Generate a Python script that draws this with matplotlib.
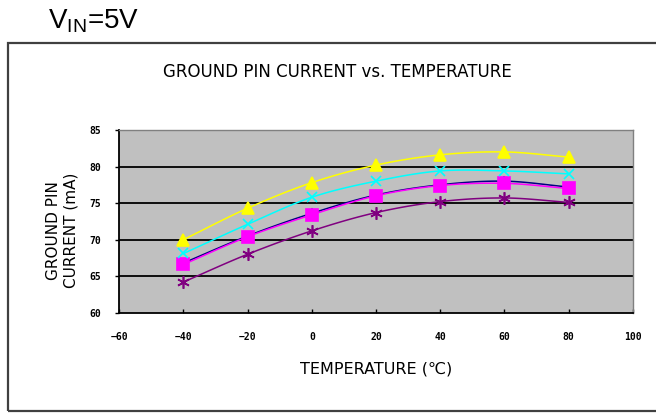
import numpy as np
import matplotlib
matplotlib.use("Agg")
import matplotlib.pyplot as plt
from matplotlib.patches import Rectangle

# datos
temp = [-40, -20, 0, 20, 40, 60, 80]
serie_amarilla = [70.0, 74.3, 77.8, 80.2, 81.6, 82.0, 81.3]
serie_cian = [68.1, 72.1, 75.8, 78.0, 79.4, 79.4, 79.0]
serie_azul = [66.8, 70.5, 73.6, 76.1, 77.5, 78.0, 77.2]
serie_magenta = [66.6, 70.4, 73.4, 76.0, 77.4, 77.7, 77.0]
serie_purpura = [64.2, 68.0, 71.2, 73.7, 75.2, 75.7, 75.1]

x_ticks = [-60, -40, -20, 0, 20, 40, 60, 80, 100]
y_ticks = [60, 65, 70, 75, 80, 85]


def suavizar(x, y, n=20):
    # curva tipo catmull-rom solo para dibujar la linea (como el suavizado de Excel)
    x = np.asarray(x, float)
    y = np.asarray(y, float)
    px = np.concatenate([[2 * x[0] - x[1]], x, [2 * x[-1] - x[-2]]])
    py = np.concatenate([[2 * y[0] - y[1]], y, [2 * y[-1] - y[-2]]])
    xs, ys = [], []
    t = np.linspace(0, 1, n)
    for i in range(1, len(px) - 2):
        for p, out in ((px, xs), (py, ys)):
            p0, p1, p2, p3 = p[i - 1], p[i], p[i + 1], p[i + 2]
            out.extend(0.5 * ((2 * p1) + (-p0 + p2) * t +
                              (2 * p0 - 5 * p1 + 4 * p2 - p3) * t ** 2 +
                              (-p0 + 3 * p1 - 3 * p2 + p3) * t ** 3))
    return xs, ys


fig = plt.figure(figsize=(6.56, 4.13), dpi=100)
fig.patch.set_facecolor("white")

# marco exterior
fig.patches.append(Rectangle((0.0122, 0.0048), 1.2, 0.8915, transform=fig.transFigure,
                             fill=False, edgecolor="#404040", linewidth=1.6))

fig.text(0.073, 0.948, "V$_{\\mathregular{IN}}$=5V", fontsize=20, family="Liberation Sans",
         va="center", ha="left")

ax = fig.add_axes([0.1819, 0.2429, 0.7826, 0.4423])
ax.set_facecolor("#C0C0C0")

for v in [65, 70, 75, 80]:
    ax.axhline(v, color="black", linewidth=1.3, zorder=1)

series = [
    (serie_purpura, "#800080", (6, 2, 0), 9),
    (serie_azul, "#000080", "D", 4),
    (serie_magenta, "#FF00FF", "s", 8),
    (serie_cian, "#00FFFF", "x", 7),
    (serie_amarilla, "#FFFF00", "^", 8),
]
for vals, col, mk, ms in series:
    sx, sy = suavizar(temp, vals)
    ax.plot(sx, sy, color=col, linewidth=1.1, zorder=2)
    ax.plot(temp, vals, linestyle="none", marker=mk, markersize=ms, color=col,
            markeredgecolor=col, markeredgewidth=1.2, zorder=3)

ax.set_xlim(-60, 100)
ax.set_ylim(60, 85)
ax.set_xticks(x_ticks)
ax.set_yticks(y_ticks)
ax.tick_params(axis="x", direction="in", length=3, width=1, pad=14, labelsize=7)
ax.tick_params(axis="y", direction="out", length=3, width=1, pad=10, labelsize=7)
for lab in ax.get_xticklabels() + ax.get_yticklabels():
    lab.set_fontweight("bold")
    lab.set_family("DejaVu Sans Mono")

for s in ["left", "bottom"]:
    ax.spines[s].set_color("black")
    ax.spines[s].set_linewidth(1.3)
for s in ["right", "top"]:
    ax.spines[s].set_color("#808080")
    ax.spines[s].set_linewidth(1.0)

ax.set_xlabel("TEMPERATURE (℃)", fontsize=11.5, family=["DejaVu Sans", "Noto Sans CJK SC"],
              labelpad=14)
ax.set_ylabel("GROUND PIN\nCURRENT (mA)", fontsize=11, family="DejaVu Sans",
              linespacing=1.2)
ax.yaxis.set_label_coords(-0.080, 0.45)

fig.text(0.514, 0.826, "GROUND PIN CURRENT vs. TEMPERATURE", fontsize=12,
         family="DejaVu Sans", ha="center", va="center")

fig.savefig("out.png", dpi=100)
